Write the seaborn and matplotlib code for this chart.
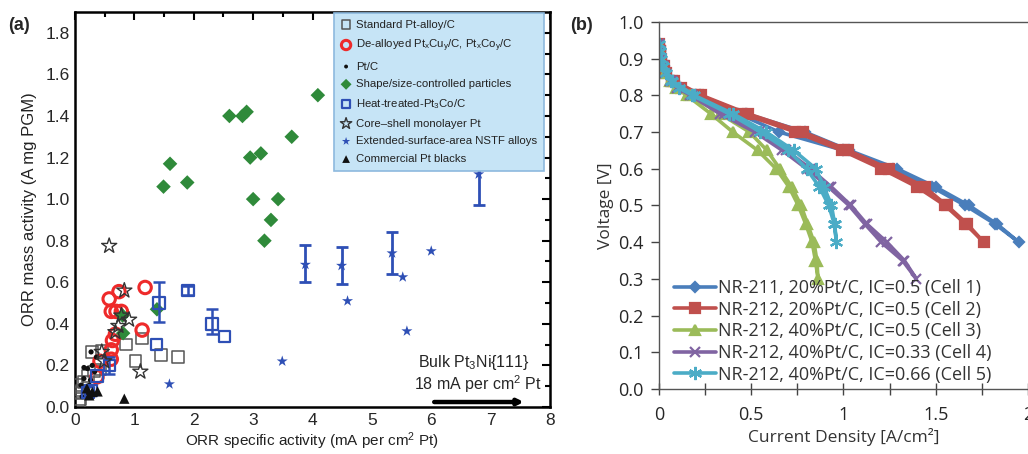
import numpy as np
import pandas as pd
import matplotlib
matplotlib.use("Agg")
import matplotlib.pyplot as plt
import seaborn as sns

# ---------------- Panel (a) data ----------------
std_x = [0.86, 1.13, 1.02, 1.45, 1.73, 0.45, 0.29, 0.43, 0.32, 0.15, 0.08, 0.08, 0.07, 0.12, 0.04, 0.22]
std_y = [0.30, 0.33, 0.22, 0.25, 0.24, 0.27, 0.265, 0.18, 0.17, 0.12, 0.07, 0.04, 0.01, 0.08, 0.105, 0.15]

dea_x = [0.575, 0.74, 1.18, 0.61, 0.69, 0.78, 1.13, 0.68, 0.63, 0.61, 0.61, 0.42, 0.37]
dea_y = [0.52, 0.555, 0.575, 0.46, 0.46, 0.46, 0.37, 0.35, 0.32, 0.275, 0.23, 0.22, 0.145]

ptc_x = [0.27, 0.15, 0.21, 0.29, 0.15, 0.24, 0.10, 0.33, 0.20, 0.36, 0.12, 0.26]
ptc_y = [0.265, 0.19, 0.185, 0.20, 0.137, 0.105, 0.105, 0.17, 0.07, 0.24, 0.05, 0.13]

shp_x = [1.49, 1.60, 1.89, 2.60, 2.82, 2.89, 2.95, 3.00, 3.13, 3.19, 3.30, 3.42, 3.65, 4.09, 1.38, 0.80, 0.81]
shp_y = [1.06, 1.17, 1.08, 1.40, 1.40, 1.42, 1.20, 1.00, 1.22, 0.80, 0.90, 1.00, 1.30, 1.50, 0.47, 0.44, 0.355]

ht_x = [1.41, 1.90, 2.31, 2.52, 1.37, 0.58, 0.37, 0.27, 0.22]
ht_y = [0.50, 0.56, 0.40, 0.34, 0.30, 0.20, 0.15, 0.08, 0.07]
ht_err_x = [1.41, 1.90, 2.31, 0.58]
ht_err_y = [0.50, 0.56, 0.40, 0.20]
ht_err_lo = [0.09, 0.02, 0.05, 0.04]
ht_err_hi = [0.10, 0.02, 0.07, 0.04]

cs_x = [0.575, 0.83, 0.91, 1.10, 0.73, 0.45, 0.49, 0.78, 0.68]
cs_y = [0.775, 0.56, 0.42, 0.17, 0.39, 0.265, 0.22, 0.44, 0.36]

nstf_x = [3.88, 4.49, 5.34, 6.80, 6.00, 5.52, 4.59, 5.59, 3.49, 1.59]
nstf_y = [0.685, 0.68, 0.74, 1.12, 0.75, 0.625, 0.51, 0.365, 0.22, 0.11]
nstf_err_x = [3.88, 4.49, 5.34, 6.80]
nstf_err_y = [0.685, 0.68, 0.74, 1.12]
nstf_err_lo = [0.085, 0.09, 0.10, 0.15]
nstf_err_hi = [0.095, 0.09, 0.10, 0.14]

blk_x = [0.83, 0.38, 0.29, 0.24, 0.20]
blk_y = [0.04, 0.075, 0.072, 0.056, 0.09]

legend_a = ["Standard Pt-alloy/C",
            "De-alloyed Pt$_x$Cu$_y$/C, Pt$_x$Co$_y$/C",
            "Pt/C",
            "Shape/size-controlled particles",
            "Heat-treated-Pt$_3$Co/C",
            "Core\u2013shell monolayer Pt",
            "Extended-surface-area NSTF alloys",
            "Commercial Pt blacks"]

# ---------------- Panel (b) data ----------------
c1_v = [0.94, 0.92, 0.90, 0.88, 0.86, 0.84, 0.82, 0.80, 0.75, 0.70, 0.65, 0.60, 0.55, 0.50, 0.45, 0.40,
        0.45, 0.50, 0.55, 0.60, 0.65, 0.70, 0.75, 0.80, 0.84, 0.88, 0.92]
c1_j = [0.00, 0.004, 0.01, 0.02, 0.04, 0.07, 0.12, 0.20, 0.43, 0.65, 1.00, 1.27, 1.48, 1.66, 1.82, 1.95,
        1.83, 1.68, 1.50, 1.29, 1.03, 0.79, 0.47, 0.22, 0.08, 0.025, 0.005]
c2_v = [0.94, 0.92, 0.90, 0.88, 0.86, 0.84, 0.82, 0.80, 0.75, 0.70, 0.65, 0.60, 0.55, 0.50, 0.45, 0.40,
        0.45, 0.50, 0.55, 0.60, 0.65, 0.70, 0.75, 0.80, 0.84, 0.88, 0.92]
c2_j = [0.00, 0.004, 0.01, 0.02, 0.04, 0.07, 0.12, 0.21, 0.45, 0.74, 0.99, 1.205, 1.40, 1.55, 1.66, 1.76,
        1.67, 1.56, 1.44, 1.245, 1.025, 0.78, 0.48, 0.23, 0.08, 0.025, 0.005]
c3_v = [0.94, 0.92, 0.90, 0.88, 0.86, 0.84, 0.82, 0.80, 0.75, 0.70, 0.65, 0.60, 0.55, 0.50, 0.45, 0.40, 0.35, 0.30,
        0.35, 0.40, 0.45, 0.50, 0.55, 0.60, 0.65, 0.70, 0.75, 0.80, 0.84, 0.88, 0.92]
c3_j = [0.00, 0.004, 0.01, 0.02, 0.035, 0.06, 0.095, 0.15, 0.28, 0.40, 0.535, 0.635, 0.705, 0.755, 0.795, 0.83, 0.848, 0.862,
        0.856, 0.84, 0.805, 0.77, 0.72, 0.655, 0.585, 0.49, 0.33, 0.17, 0.07, 0.022, 0.005]
c4_v = [0.94, 0.92, 0.90, 0.88, 0.86, 0.84, 0.82, 0.80, 0.75, 0.70, 0.65, 0.60, 0.55, 0.50, 0.45, 0.40, 0.35, 0.30,
        0.35, 0.40, 0.45, 0.50, 0.55, 0.60, 0.65, 0.70, 0.75, 0.80, 0.84, 0.88, 0.92]
c4_j = [0.00, 0.004, 0.01, 0.02, 0.035, 0.06, 0.10, 0.17, 0.33, 0.52, 0.668, 0.80, 0.92, 1.03, 1.115, 1.205, 1.32, 1.395,
        1.33, 1.235, 1.125, 1.04, 0.935, 0.82, 0.69, 0.54, 0.35, 0.18, 0.07, 0.022, 0.005]
c5_v = [0.94, 0.92, 0.90, 0.88, 0.86, 0.84, 0.82, 0.80, 0.75, 0.70, 0.65, 0.60, 0.55, 0.50, 0.45, 0.40,
        0.45, 0.50, 0.55, 0.60, 0.65, 0.70, 0.75, 0.80, 0.84, 0.88, 0.92]
c5_j = [0.00, 0.004, 0.01, 0.02, 0.04, 0.065, 0.11, 0.18, 0.38, 0.55, 0.70, 0.80, 0.87, 0.92, 0.95, 0.962,
        0.952, 0.935, 0.895, 0.85, 0.73, 0.58, 0.40, 0.19, 0.07, 0.022, 0.005]
legend_b = ["NR-211, 20%Pt/C, IC=0.5 (Cell 1)",
            "NR-212, 20%Pt/C, IC=0.5 (Cell 2)",
            "NR-212, 40%Pt/C, IC=0.5 (Cell 3)",
            "NR-212, 40%Pt/C, IC=0.33 (Cell 4)",
            "NR-212, 40%Pt/C, IC=0.66 (Cell 5)"]

# ---------------- Style ----------------
sns.set_style("white")
plt.rcParams["font.family"] = ["Liberation Sans", "DejaVu Sans"]
plt.rcParams["mathtext.default"] = "regular"

fig = plt.figure(figsize=(10.28, 4.54), dpi=100)
axa = fig.add_axes([0.073, 0.1035, 0.462, 0.870])
axb = fig.add_axes([0.641, 0.143, 0.359, 0.809])

GRAY = "#555555"
RED = "#ee2a2a"
GREEN = "#2f8a3a"
BLUE = "#2e4fb5"

sns.scatterplot(x=std_x, y=std_y, ax=axa, marker="s", s=70, facecolors="none",
                edgecolor=GRAY, linewidth=1.1, label=legend_a[0], zorder=3)
sns.scatterplot(x=dea_x, y=dea_y, ax=axa, marker="o", s=80, facecolors="none",
                edgecolor=RED, linewidth=2.2, label=legend_a[1], zorder=3)
sns.scatterplot(x=ptc_x, y=ptc_y, ax=axa, marker="o", s=14, color="#111111",
                edgecolor="none", label=legend_a[2], zorder=4)
sns.scatterplot(x=shp_x, y=shp_y, ax=axa, marker="D", s=55, color=GREEN,
                edgecolor="none", label=legend_a[3], zorder=4)
sns.scatterplot(x=ht_x, y=ht_y, ax=axa, marker="s", s=70, facecolors="none",
                edgecolor=BLUE, linewidth=1.6, label=legend_a[4], zorder=4)
sns.scatterplot(x=cs_x, y=cs_y, ax=axa, marker="*", s=130, facecolors="none",
                edgecolor="#333333", linewidth=1.0, label=legend_a[5], zorder=5)
sns.scatterplot(x=nstf_x, y=nstf_y, ax=axa, marker="*", s=70, color=BLUE,
                edgecolor="none", label=legend_a[6], zorder=5)
sns.scatterplot(x=blk_x, y=blk_y, ax=axa, marker="^", s=55, color="#111111",
                edgecolor="none", label=legend_a[7], zorder=5)

axa.errorbar(ht_err_x, ht_err_y, yerr=[ht_err_lo, ht_err_hi], fmt="none",
             ecolor=BLUE, elinewidth=1.8, capsize=4, capthick=1.8, zorder=4)
axa.errorbar(nstf_err_x, nstf_err_y, yerr=[nstf_err_lo, nstf_err_hi], fmt="none",
             ecolor=BLUE, elinewidth=2.0, capsize=4, capthick=2.0, zorder=4)

axa.set_xlim(0, 8)
axa.set_ylim(0, 1.9)
axa.set_xticks(np.arange(0, 9, 1))
axa.set_xticks(np.arange(0.5, 8, 1), minor=True)
axa.set_yticks(np.round(np.arange(0, 1.81, 0.2), 1))
axa.set_yticks(np.round(np.arange(0.1, 1.9, 0.2), 1), minor=True)
axa.yaxis.set_major_formatter(matplotlib.ticker.FormatStrFormatter("%.1f"))
axa.tick_params(which="both", direction="in", top=True, right=True, width=1.5,
                labelsize=12.5, color="black", pad=4)
axa.tick_params(which="major", length=6)
axa.tick_params(which="minor", length=3.5)
for sp in axa.spines.values():
    sp.set_visible(True)
    sp.set_linewidth(1.8)
    sp.set_color("black")
axa.set_xlabel("ORR specific activity (mA per cm$^2$ Pt)", fontsize=11, labelpad=2, color="#222222")
axa.set_ylabel("ORR mass activity (A mg PGM)", fontsize=12, labelpad=6, color="#222222")

axa.text(6.72, 0.215, "Bulk Pt$_3$Ni{111}", ha="center", va="center", fontsize=11.5)
axa.text(6.78, 0.11, "18 mA per cm$^2$ Pt", ha="center", va="center", fontsize=11.5)
axa.annotate("", xy=(7.56, 0.024), xytext=(6.05, 0.024),
             arrowprops=dict(arrowstyle="-|>", lw=3.2, color="black", mutation_scale=8,
                             shrinkA=0, shrinkB=0))

leg = axa.legend(loc="upper right", bbox_to_anchor=(0.988, 0.998), fontsize=8.2,
                 frameon=True, fancybox=False, framealpha=1.0, borderpad=0.6,
                 labelspacing=0.68, handletextpad=0.4, handlelength=1.0,
                 borderaxespad=0.0, markerscale=0.75)
leg.get_frame().set_facecolor("#c6e4f6")
leg.get_frame().set_edgecolor("#8db9de")
leg.get_frame().set_linewidth(1.2)
for t in leg.get_texts():
    t.set_color("#222222")

# ---------------- Panel (b) ----------------
cells = [
    (c1_j, c1_v, "#4a7ebb", "D", 5.5, legend_b[0]),
    (c2_j, c2_v, "#c0504d", "s", 7.5, legend_b[1]),
    (c3_j, c3_v, "#9bbb59", "^", 7.5, legend_b[2]),
    (c4_j, c4_v, "#8064a2", "x", 7.5, legend_b[3]),
    (c5_j, c5_v, "#4bacc6", (6, 2, 0), 9.5, legend_b[4]),
]
for j, v, col, mk, ms, lab in cells:
    df = pd.DataFrame({"j": j, "v": v})
    sns.lineplot(data=df, x="j", y="v", ax=axb, sort=False, estimator=None,
                 color=col, marker=mk, markersize=ms, markeredgecolor=col,
                 markerfacecolor=col, markeredgewidth=1.6, linewidth=2.6, label=lab)

bfont = ["Open Sans", "DejaVu Sans"]
axb.set_xlim(0, 2)
axb.set_ylim(0, 1.0)
axb.set_xticks([0, 0.5, 1, 1.5, 2])
axb.set_xticklabels(["0", "0.5", "1", "1.5", "2"], family=bfont, fontsize=13)
axb.set_xticks(np.arange(0.25, 2, 0.5), minor=True)
axb.set_yticks(np.round(np.arange(0, 1.01, 0.1), 1))
axb.set_yticklabels([f"{t:.1f}" for t in np.arange(0, 1.01, 0.1)], family=bfont, fontsize=13)
axb.tick_params(axis="x", which="both", direction="inout", length=8, width=1, color="#444444",
                pad=8, bottom=True)
axb.tick_params(axis="y", which="major", direction="out", length=6, width=1, color="#444444",
                pad=5, left=True)
for side in ["left", "bottom", "top"]:
    axb.spines[side].set_visible(True)
    axb.spines[side].set_color("#555555")
    axb.spines[side].set_linewidth(1.0)
axb.spines["right"].set_visible(False)
axb.set_xlabel("Current Density [A/cm\u00b2]", family=bfont, fontsize=12.5, labelpad=3, color="#333333")
axb.set_ylabel("Voltage [V]", family=bfont, fontsize=12.5, labelpad=3, color="#333333")
legb = axb.legend(loc="lower left", bbox_to_anchor=(0.015, -0.012), frameon=False,
                  prop={"family": bfont, "size": 13}, handlelength=2.3,
                  handletextpad=0.12, labelspacing=0.2, borderaxespad=0.15)
for t in legb.get_texts():
    t.set_color("#333333")

fig.text(0.008, 0.935, "(a)", fontsize=13, fontweight="bold", family=["Liberation Sans"])
fig.text(0.555, 0.935, "(b)", fontsize=13, fontweight="bold", family=["Liberation Sans"])

fig.savefig("out.png", dpi=100)
